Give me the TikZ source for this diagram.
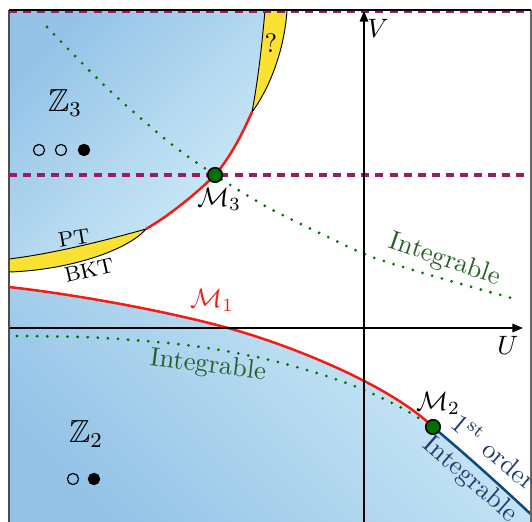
\documentclass[tikz,border=0pt]{standalone}
\usepackage{amssymb}
\usetikzlibrary{arrows.meta}
\definecolor{bdark}{RGB}{148,195,231}
\definecolor{blight}{RGB}{208,236,248}
\definecolor{magc}{RGB}{160,25,100}
\definecolor{redc}{RGB}{240,30,20}
\definecolor{greenm}{RGB}{0,112,0}
\definecolor{greent}{RGB}{40,95,40}
\definecolor{navyc}{RGB}{10,75,125}
\definecolor{navyt}{RGB}{35,60,110}
\definecolor{yel}{RGB}{250,225,50}
\begin{document}
\begin{tikzpicture}[x=0.376pt,y=-0.376pt,
  every node/.style={inner sep=0pt,outer sep=0pt},
  magdash/.style={magc,line width=1.15pt,dash pattern=on 3pt off 2.3pt},
  greendots/.style={greenm,line width=1.15pt,dash pattern=on 0pt off 3.8pt,line cap=round},
  redline/.style={redc,line width=0.95pt},
  navyline/.style={navyc,line width=0.95pt},
  yellowpatch/.style={fill=yel,draw=black,line width=0.35pt},
  axisline/.style={black,line width=0.6pt,-{Triangle[length=4pt,width=3.2pt]}},
  marker/.style={circle,fill=greenm,draw=black,line width=0.55pt,minimum size=5.4pt},
  opendot/.style={circle,draw=black,line width=0.45pt,minimum size=4.2pt},
  fulldot/.style={circle,fill=black,draw=black,line width=0.45pt,minimum size=4.2pt},
  gtext/.style={text=greent},
  ntext/.style={text=navyt}]
\useasboundingbox (0,0) rectangle (532,521);
\clip (0,0) rectangle (532,521);

% upper blue region
\shade[left color=bdark,right color=blight,shading angle=45]
 (9,10) -- (265,10) .. controls (262,45) and (258,80) .. (252,112)
 .. controls (243,132) and (232,155) .. (215,175)
 .. controls (200,190) and (172,214) .. (146,229)
 .. controls (100,242) and (50,254) .. (9,259) -- cycle;

% lower blue region
\shade[left color=bdark,right color=blight,shading angle=135]
 (9,530) -- (9,287) .. controls (80,295) and (170,312) .. (228,328)
 .. controls (290,345) and (390,385) .. (433,427)
 .. controls (470,458) and (505,490) .. (536,519) -- (536,530) -- cycle;

% yellow patches
\path[yellowpatch] (265,10) .. controls (262,45) and (258,80) .. (252,112)
 .. controls (272,85) and (285,45) .. (287,10) -- cycle;
\path[yellowpatch] (146,229) .. controls (100,242) and (50,254) .. (9,259)
 -- (9,272) .. controls (70,270) and (128,250) .. (146,229) -- cycle;

% dashed magenta lines
\coordinate (dl1) at (9,11.5);
\coordinate (dr1) at (532,11.5);
\coordinate (dl2) at (9,175);
\coordinate (dr2) at (532,175);
\draw[magdash] (dl1) -- (dr1);
\draw[magdash] (dl2) -- (dr2);

% markers (positions)
\node[marker] (M3) at (215,175) {};
\node[marker] (M2) at (433,427) {};

% dotted integrable lines
\draw[greendots] plot[smooth] coordinates {(47,27) (107,88) (170,143) (215,175) (267,207) (330,238) (372,257) (440,278) (515,299)};
\draw[greendots] plot[smooth] coordinates {(17,336) (83,337) (133,340) (177,344) (220,350) (270,360) (320,374) (362,389) (400,407) (420,419)};

% red transition curves
\draw[redline] (252,112) .. controls (243,132) and (232,155) .. (M3.center)
 .. controls (200,190) and (172,214) .. (146,229);
\draw[redline] (9,287) .. controls (80,295) and (170,312) .. (228,328)
 .. controls (290,345) and (390,385) .. (M2.center);
% first order line
\draw[navyline] (M2.center) .. controls (470,458) and (505,490) .. (536,519);

% axes
\coordinate (Vb) at (364,525);
\coordinate (Vt) at (364,11);
\coordinate (Ul) at (9,328);
\coordinate (Ur) at (523,328);
\draw[axisline] (Vb) -- (Vt);
\draw[axisline] (Ul) -- (Ur);

% frame
\draw[black!70,line width=0.5pt] (9,10) -- (9,530);
\draw[black!60,line width=0.5pt] (531,10) -- (531,530);
\draw[black,line width=0.5pt] (9,10) -- (531,10);

% markers on top
\node[marker] at (M3) {};
\node[marker] at (M2) {};

% labels
\node[font=\large] (Z3) at (65,103) {$\mathbb{Z}_3$};
\node[font=\large] (Z2) at (86,434) {$\mathbb{Z}_2$};
\node[opendot] (a1) at (39,150) {};
\node[opendot] (a2) at (61,150) {};
\node[fulldot] (a3) at (84,150) {};
\node[opendot] (b1) at (73,479) {};
\node[fulldot] (b2) at (94,479) {};
\node (q) at (271,43) {?};
\node[font=\footnotesize,rotate=10] (PT) at (74,238) {PT};
\node[font=\footnotesize,rotate=13] (BKT) at (89,270) {BKT};
\node (m3) at (219,199) {$\mathcal{M}_3$};
\node[text=redc] (m1) at (212,300) {$\mathcal{M}_1$};
\node (m2) at (438,403) {$\mathcal{M}_2$};
\node (V) at (378,28) {$V$};
\node (U) at (508,345) {$U$};
\node[gtext,rotate=-19] (int1) at (445,260) {Integrable};
\node[gtext,rotate=-7] (int2) at (208,366) {Integrable};
\node[ntext,rotate=-40] (ord) at (495,451) {1\textsuperscript{st} order};
\node[ntext,rotate=-41] (int3) at (470,480) {Integrable};
\end{tikzpicture}
\end{document}
